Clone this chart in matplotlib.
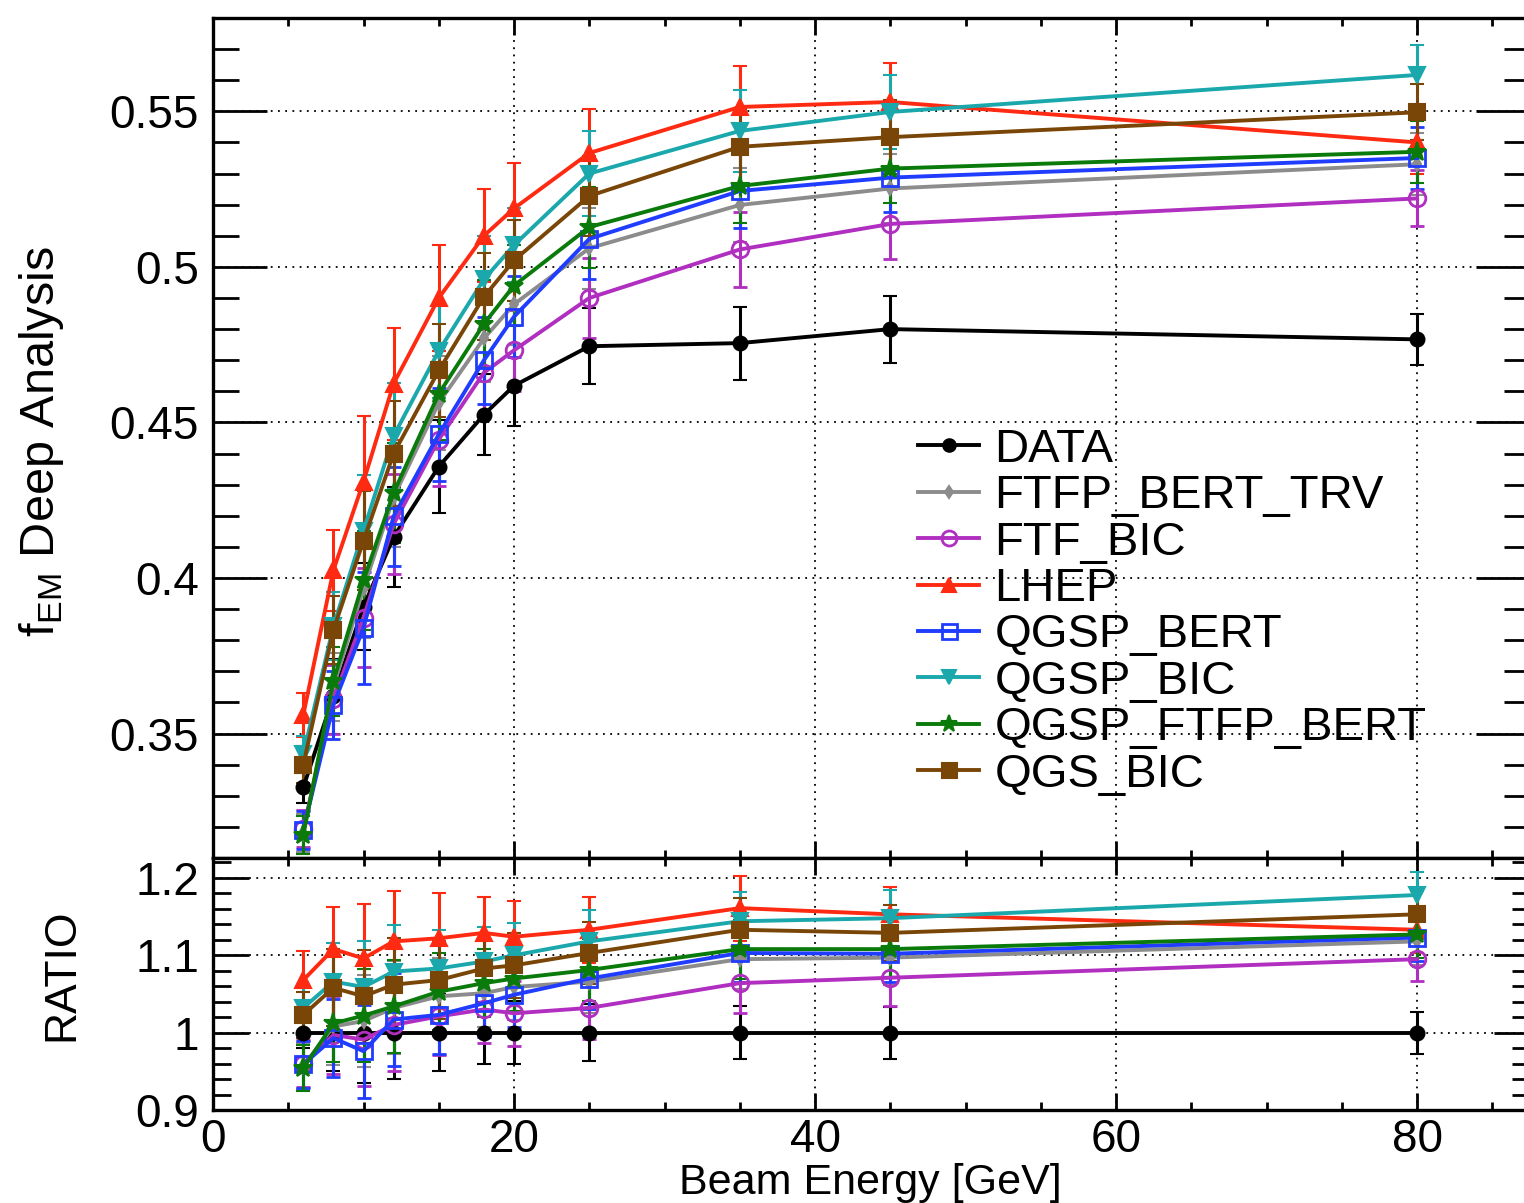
import matplotlib
matplotlib.use("Agg")
import matplotlib.pyplot as plt
from matplotlib.ticker import MultipleLocator, FuncFormatter

# ---------------- data ----------------
energy = [6, 8, 10, 12, 15, 18, 20, 25, 35, 45, 80]

labels = ["DATA", "FTFP_BERT_TRV", "FTF_BIC", "LHEP", "QGSP_BERT",
          "QGSP_BIC", "QGSP_FTFP_BERT", "QGS_BIC"]

data_f = [0.3327, 0.3620, 0.3908, 0.4132, 0.4358, 0.4525, 0.4618, 0.4745, 0.4755, 0.4800, 0.4767]
ftfp_bert_trv_f = [0.3180, 0.3650, 0.3967, 0.4260, 0.4563, 0.4770, 0.4880, 0.5060, 0.5199, 0.5252, 0.5330]
ftf_bic_f = [0.3194, 0.3610, 0.3873, 0.4173, 0.4445, 0.4660, 0.4732, 0.4900, 0.5056, 0.5138, 0.5220]
lhep_f = [0.3560, 0.4025, 0.4310, 0.4625, 0.4900, 0.5100, 0.5188, 0.5366, 0.5514, 0.5530, 0.5400]
qgsp_bert_f = [0.3190, 0.3592, 0.3840, 0.4198, 0.4462, 0.4700, 0.4840, 0.5090, 0.5244, 0.5287, 0.5350]
qgsp_bic_f = [0.3433, 0.3845, 0.4152, 0.4457, 0.4730, 0.4960, 0.5070, 0.5300, 0.5437, 0.5498, 0.5617]
qgsp_ftfp_bert_f = [0.3174, 0.3668, 0.3992, 0.4274, 0.4592, 0.4817, 0.4940, 0.5128, 0.5260, 0.5316, 0.5370]
qgs_bic_f = [0.3400, 0.3833, 0.4120, 0.4400, 0.4667, 0.4904, 0.5021, 0.5228, 0.5386, 0.5417, 0.5497]

data_f_err = [0.005, 0.012, 0.014, 0.016, 0.015, 0.013, 0.013, 0.0123, 0.0117, 0.0108, 0.0083]
ftfp_bert_trv_f_err = [0.006, 0.011, 0.016, 0.016, 0.015, 0.014, 0.013, 0.013, 0.012, 0.011, 0.010]
ftf_bic_f_err = [0.006, 0.011, 0.016, 0.016, 0.015, 0.014, 0.013, 0.013, 0.012, 0.0113, 0.009]
lhep_f_err = [0.007, 0.013, 0.021, 0.018, 0.017, 0.015, 0.0146, 0.0142, 0.0133, 0.0125, 0.010]
qgsp_bert_f_err = [0.006, 0.011, 0.018, 0.016, 0.015, 0.014, 0.013, 0.013, 0.012, 0.011, 0.010]
qgsp_bic_f_err = [0.006, 0.011, 0.018, 0.017, 0.015, 0.014, 0.012, 0.0137, 0.0133, 0.012, 0.0096]
qgsp_ftfp_bert_f_err = [0.006, 0.011, 0.016, 0.016, 0.015, 0.014, 0.013, 0.013, 0.012, 0.011, 0.010]
qgs_bic_f_err = [0.006, 0.011, 0.016, 0.017, 0.015, 0.014, 0.013, 0.013, 0.012, 0.012, 0.009]

data_r = [1.0, 1.0, 1.0, 1.0, 1.0, 1.0, 1.0, 1.0, 1.0, 1.0, 1.0]
ftfp_bert_trv_r = [0.957, 1.008, 1.015, 1.032, 1.047, 1.051, 1.059, 1.066, 1.095, 1.097, 1.118]
ftf_bic_r = [0.960, 0.997, 0.991, 1.010, 1.021, 1.030, 1.025, 1.032, 1.064, 1.071, 1.095]
lhep_r = [1.068, 1.108, 1.096, 1.118, 1.122, 1.129, 1.124, 1.133, 1.161, 1.153, 1.133]
qgsp_bert_r = [0.959, 0.993, 0.976, 1.017, 1.023, 1.038, 1.049, 1.070, 1.103, 1.102, 1.123]
qgsp_bic_r = [1.032, 1.066, 1.059, 1.079, 1.083, 1.092, 1.100, 1.118, 1.144, 1.148, 1.178]
qgsp_ftfp_bert_r = [0.954, 1.012, 1.022, 1.034, 1.053, 1.064, 1.070, 1.081, 1.108, 1.108, 1.127]
qgs_bic_r = [1.023, 1.058, 1.047, 1.062, 1.068, 1.083, 1.087, 1.103, 1.133, 1.129, 1.153]

data_r_err = [0.020, 0.050, 0.065, 0.060, 0.050, 0.040, 0.041, 0.037, 0.034, 0.0335, 0.027]
ftfp_bert_trv_r_err = [0.030, 0.050, 0.060, 0.060, 0.050, 0.044, 0.042, 0.040, 0.038, 0.036, 0.030]
ftf_bic_r_err = [0.030, 0.050, 0.060, 0.060, 0.050, 0.044, 0.042, 0.040, 0.038, 0.036, 0.028]
lhep_r_err = [0.037, 0.055, 0.070, 0.065, 0.058, 0.046, 0.046, 0.043, 0.042, 0.035, 0.030]
qgsp_bert_r_err = [0.030, 0.050, 0.060, 0.060, 0.050, 0.044, 0.042, 0.040, 0.038, 0.036, 0.030]
qgsp_bic_r_err = [0.030, 0.050, 0.060, 0.060, 0.050, 0.044, 0.042, 0.040, 0.038, 0.036, 0.030]
qgsp_ftfp_bert_r_err = [0.030, 0.050, 0.060, 0.060, 0.050, 0.044, 0.042, 0.040, 0.038, 0.036, 0.030]
qgs_bic_r_err = [0.030, 0.050, 0.060, 0.060, 0.050, 0.044, 0.042, 0.040, 0.041, 0.036, 0.030]

# ---------------- styles ----------------
styles = [
    dict(color="black", marker="o", ms=10, mfc="black"),
    dict(color="#8c8c8c", marker="d", ms=7, mfc="#8c8c8c"),
    dict(color="#b02ec0", marker="o", ms=12, mfc="none", mew=2),
    dict(color="#ff2a12", marker="^", ms=11, mfc="#ff2a12"),
    dict(color="#1f3cff", marker="s", ms=12, mfc="none", mew=2),
    dict(color="#1aa8ac", marker="v", ms=11, mfc="#1aa8ac"),
    dict(color="#0a7a0a", marker="*", ms=14, mfc="#0a7a0a"),
    dict(color="#7a4608", marker="s", ms=12, mfc="#7a4608"),
]

top_vals = [data_f, ftfp_bert_trv_f, ftf_bic_f, lhep_f, qgsp_bert_f, qgsp_bic_f, qgsp_ftfp_bert_f, qgs_bic_f]
top_errs = [data_f_err, ftfp_bert_trv_f_err, ftf_bic_f_err, lhep_f_err, qgsp_bert_f_err, qgsp_bic_f_err,
            qgsp_ftfp_bert_f_err, qgs_bic_f_err]
rat_vals = [data_r, ftfp_bert_trv_r, ftf_bic_r, lhep_r, qgsp_bert_r, qgsp_bic_r, qgsp_ftfp_bert_r, qgs_bic_r]
rat_errs = [data_r_err, ftfp_bert_trv_r_err, ftf_bic_r_err, lhep_r_err, qgsp_bert_r_err, qgsp_bic_r_err,
            qgsp_ftfp_bert_r_err, qgs_bic_r_err]

plt.rcParams["font.family"] = ["Liberation Sans", "DejaVu Sans"]

W, H = 1524, 1203
fig = plt.figure(figsize=(W / 100, H / 100), dpi=100)

left_px, right_px = 213, 1530
top_px, mid_px, bot_px = 18, 858, 1110
ax1 = fig.add_axes([left_px / W, 1 - mid_px / H, (right_px - left_px) / W, (mid_px - top_px) / H])
ax2 = fig.add_axes([left_px / W, 1 - bot_px / H, (right_px - left_px) / W, (bot_px - mid_px) / H])

grid_kw = dict(color="black", linestyle=(0, (1, 3)), linewidth=1.3)

handles = []
for vals, errs, st in zip(top_vals, top_errs, styles):
    c = ax1.errorbar(energy, vals, yerr=errs, color=st["color"], marker=st["marker"],
                     ms=st["ms"], mfc=st["mfc"], mec=st["color"], mew=st.get("mew", 1.5),
                     lw=2.8, elinewidth=2.2, capsize=5, capthick=2.2)
    handles.append(c[0])
for vals, errs, st in zip(rat_vals, rat_errs, styles):
    ax2.errorbar(energy, vals, yerr=errs, color=st["color"], marker=st["marker"],
                 ms=st["ms"], mfc=st["mfc"], mec=st["color"], mew=st.get("mew", 1.5),
                 lw=2.8, elinewidth=2.2, capsize=5, capthick=2.2)

fmt = FuncFormatter(lambda v, p: "%g" % round(v, 3))

for ax in (ax1, ax2):
    ax.set_xlim(0, 87.5)
    ax.xaxis.set_major_locator(MultipleLocator(20))
    ax.xaxis.set_minor_locator(MultipleLocator(5))
    ax.grid(True, which="major", **grid_kw)
    ax.set_axisbelow(True)
    for s in ax.spines.values():
        s.set_linewidth(2.4)
    ax.tick_params(which="both", direction="in", top=True, right=True, width=2.0,
                   labelsize=33, pad=10)
    ax.tick_params(axis="x", which="major", length=12)
    ax.tick_params(axis="x", which="minor", length=6)

ax1.set_ylim(0.31, 0.58)
ax1.yaxis.set_major_locator(MultipleLocator(0.05))
ax1.yaxis.set_minor_locator(MultipleLocator(0.01))
ax1.yaxis.set_major_formatter(fmt)
ax1.tick_params(axis="y", which="major", length=39)
ax1.tick_params(axis="y", which="minor", length=19)
ax1.tick_params(axis="x", labelbottom=False)

ax2.set_ylim(0.9, 1.2258)
ax2.yaxis.set_major_locator(MultipleLocator(0.1))
ax2.yaxis.set_minor_locator(MultipleLocator(0.02))
ax2.yaxis.set_major_formatter(fmt)
ax2.xaxis.set_major_formatter(fmt)
ax2.tick_params(axis="y", which="major", length=26)
ax2.tick_params(axis="y", which="minor", length=13)
ax2.tick_params(axis="x", which="major", pad=6)

narrow = ["Liberation Sans Narrow", "Liberation Sans", "DejaVu Sans"]
fig.text(42 / W, 1 - 442 / H, r"f$_{\mathregular{EM}}$ Deep Analysis", rotation=90,
         ha="center", va="center", fontsize=35, family=narrow)
fig.text(62 / W, 1 - 975 / H, "RATIO", rotation=90, ha="center", va="center",
         fontsize=32, family=narrow)
fig.text(870 / W, 1 - 1183 / H, "Beam Energy [GeV]", ha="center", va="center",
         fontsize=31, family=narrow)

leg = ax1.legend(handles, labels, loc="upper left",
                 bbox_to_anchor=(918 / W, 1 - 428 / H), bbox_transform=fig.transFigure,
                 frameon=False, fontsize=34, handlelength=1.3, handletextpad=0.32,
                 labelspacing=0.05, borderpad=0, borderaxespad=0, markerscale=0.9)

fig.savefig("out.png", dpi=100)
